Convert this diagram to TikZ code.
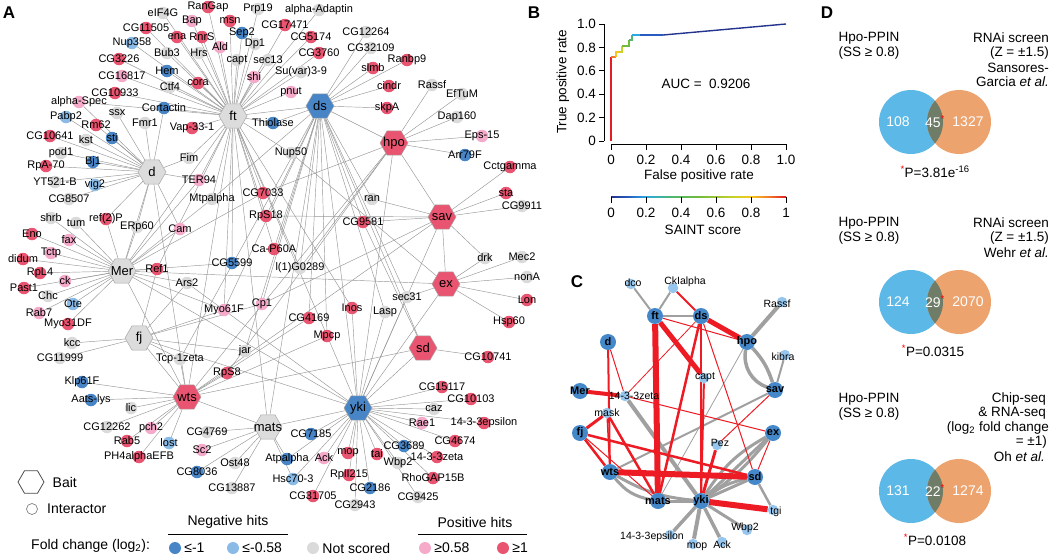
\documentclass[tikz,border=0pt]{standalone}
\usepackage{fontspec}
\setmainfont{Liberation Sans}
\usepackage{xcolor}
\usepackage{tikz}
\usetikzlibrary{shapes.geometric, backgrounds, positioning}
\definecolor{posA}{RGB}{233,84,112}
\definecolor{posB}{RGB}{245,170,202}
\definecolor{negA}{RGB}{72,133,199}
\definecolor{negB}{RGB}{138,186,230}
\definecolor{nsc}{RGB}{218,218,218}
\definecolor{baitgray}{RGB}{220,220,220}
\definecolor{edgegray}{RGB}{150,150,150}
\definecolor{netblue}{RGB}{68,136,202}
\definecolor{netlight}{RGB}{150,198,238}
\definecolor{netred}{RGB}{237,28,36}
\definecolor{netgray}{RGB}{160,160,160}
\definecolor{vennblue}{RGB}{92,184,230}
\definecolor{vennorange}{RGB}{236,163,110}
\definecolor{vennmix}{RGB}{110,124,104}
% SAINT colour scale
\definecolor{saintA}{RGB}{36,52,142}
\definecolor{saintB}{RGB}{40,92,192}
\definecolor{saintC}{RGB}{42,170,226}
\definecolor{saintD}{RGB}{80,182,112}
\definecolor{saintE}{RGB}{112,186,60}
\definecolor{saintF}{RGB}{200,210,40}
\definecolor{saintG}{RGB}{246,200,30}
\definecolor{saintH}{RGB}{242,122,40}
\definecolor{saintI}{RGB}{226,30,35}
\pgfdeclarehorizontalshading{saint}{4bp}{color(0bp)=(saintA); color(25bp)=(saintA);
  color(30bp)=(saintB); color(35bp)=(saintC); color(42.5bp)=(saintD); color(50bp)=(saintE);
  color(60bp)=(saintF); color(65bp)=(saintG); color(70bp)=(saintH); color(75bp)=(saintI);
  color(100bp)=(saintI)}

% interactors of panel A: name/x/y/colour/label
\def\Anodes{%
eif/163/13/nsc/eIF4G, rangap/208/7/posA/RanGap, bap/192/21/posB/Bap, msn/230/21/posA/msn,
prp/258/9/nsc/Prp19, aad/319/10/nsc/alpha-Adaptin, cg17471/285/25/posA/CG17471,
cg11505/146/28/posA/CG11505, ena/177/37/posA/ena, rnrs/202/37/posA/RnrS, ald/220/47/posB/Ald,
sep/242/33/negA/Sep2, cg5174/311/37/posA/CG5174, cg12264/366/32/nsc/CG12264,
nup358/132/43/negB/Nup358, dp1/255/44/nsc/Dp1, cg3760/319/53/posA/CG3760,
cg32109/371/48/nsc/CG32109, bub/167/53/nsc/Bub3, hrs/199/53/nsc/Hrs, capt/237/60/nsc/capt,
sec13/268/60/nsc/sec13, ranbp/407/60/posA/Ranbp9, cg3226/119/59/posA/CG3226,
slmb/373/68/posA/slmb, hem/167/71/negA/Hem, suvar/301/72/nsc/Su(var)3-9, shi/254/77/posB/shi,
cg16817/122/76/posB/CG16817, cora/198/83/posA/cora, ctf/170/87/nsc/Ctf4, cindr/389/86/posA/cindr,
rassf/432/85/nsc/Rassf, pnut/291/92/posB/pnut, cg10933/115/93/posA/CG10933,
eftum/462/94/nsc/EfTuM, aspec/79/102/posB/alpha-Spec, cort/164/108/negA/Cortactin,
skpa/387/108/posA/skpA, ssx/117/113/nsc/ssx, pabp/66/117/negB/Pabp2, dap/457/117/nsc/Dap160,
fmr/145/123/nsc/Fmr1, thiol/273/123/negA/Thiolase, rm62/96/125/posA/Rm62,
vap/192/128/posA/Vap-33-1, eps15/482/136/posB/Eps-15, cg10641/50/136/posA/CG10641,
kst/86/140/nsc/kst, sti/112/138/negA/sti, nup50/291/153/nsc/Nup50, arr/465/155/negA/Arr79F,
pod/61/153/nsc/pod1, fim/189/158/nsc/Fim, bj/93/162/negA/Bj1, rpa/46/166/posA/RpA-70,
cct/510/167/posA/Cctgamma, ter/199/180/posB/TER94, yt/55/182/nsc/YT521-B, vig/95/185/negB/vig2,
cg7033/263/193/posA/CG7033, sta/506/193/posA/sta, cg8507/69/199/nsc/CG8507,
mtp/212/199/nsc/Mtpalpha, ran/372/199/nsc/ran, cg9911/522/206/nsc/CG9911,
rps18/266/216/posA/RpS18, shrb/51/218/nsc/shrb, refp/106/219/posA/ref(2)P, tum/76/223/nsc/tum,
cg9581/363/222/posA/CG9581, erp/137/227/nsc/ERp60, cam/180/229/posB/Cam, eno/32/234/posA/Eno,
fax/69/240/posB/fax, cap60/274/249/posA/Ca-P60A, tctp/51/253/posB/Tctp, drk/485/258/nsc/drk,
mec/522/257/nsc/Mec2, didum/23/259/posA/didum, cg5599/232/263/negA/CG5599,
lg/300/268/nsc/l(1)G0289, ref1/157/269/posA/Ref1, rpl4/40/273/posA/RpL4, nona/527/277/nsc/nonA,
ck/65/281/posB/ck, ars/187/283/nsc/Ars2, past/24/288/posA/Past1, chc/48/296/nsc/Chc,
sec31/407/297/nsc/sec31, lon/527/300/posA/Lon, ote/73/304/negB/Ote, cp1/262/304/posB/Cp1,
inos/352/308/posA/Inos, myo61/224/310/posB/Myo61F, lasp/385/312/nsc/Lasp, rab7/39/313/posB/Rab7,
cg4169/309/318/posA/CG4169, hsp/509/322/posA/Hsp60, myo31/68/324/posA/Myo31DF,
mpcp/327/336/posA/Mpcp, kcc/72/343/nsc/kcc, jar/245/351/nsc/jar, cg10741/488/357/posA/CG10741,
cg11999/60/358/nsc/CG11999, tcp/180/359/nsc/Tcp-1zeta, rps8/227/373/posA/RpS8,
klp/82/382/negA/Klp61F, cg15117/442/387/posA/CG15117, aats/91/400/negA/Aats-lys,
cg10103/471/399/posA/CG10103, lic/131/408/nsc/lic, caz/434/409/nsc/caz, rae/422/423/posB/Rae1,
eps14/484/423/posA/14-3-3epsilon, cg12262/107/427/nsc/CG12262, pch/151/428/posB/pch2,
cg4769/207/432/nsc/CG4769, cg7185/311/434/negA/CG7185, rab5/127/441/posA/Rab5,
lost/169/443/negB/lost, cg4674/455/441/posA/CG4674, cg3689/404/446/negA/CG3689,
sc2/202/450/posB/Sc2, mop/348/453/posA/mop, tai/377/454/posA/tai, zeta/437/457/posA/14-3-3zeta,
ph4/139/457/posA/PH4alphaEFB, ack/324/458/posB/Ack, atp/287/459/negA/Atpalpha,
ost/235/463/nsc/Ost48, wbp/398/463/nsc/Wbp2, cg8036/197/472/negA/CG8036,
rpl215/349/475/posA/RplI215, rho/433/478/posA/RhoGAP15B, hsc/293/479/negB/Hsc70-3,
cg13887/232/488/nsc/CG13887, cg2186/370/488/negA/CG2186, cg31705/313/496/posA/CG31705,
cg9425/418/497/nsc/CG9425, cg2943/355/505/nsc/CG2943}

\begin{document}
\begin{tikzpicture}[x=1pt, y=-1pt,
    itr/.style={circle, inner sep=0pt, minimum size=12.5pt},
    bait/.style={regular polygon, regular polygon sides=6, inner sep=0pt,
      minimum size=28pt, draw=gray!70, line width=0.5pt},
    baitlbl/.style={inner sep=0pt, font=\fontsize{13}{13}\selectfont},
    lbl/.style={inner sep=0pt, font=\fontsize{11}{12}\selectfont},
    link/.style={edgegray, line width=0.45pt},
    legend/.style={inner sep=0pt, font=\fontsize{14}{16}\selectfont},
    keydot/.style={circle, inner sep=0pt, minimum size=12pt},
    panel/.style={inner sep=0pt, font=\fontsize{17}{17}\selectfont\bfseries},
    rocaxis/.style={line width=0.9pt},
    roc/.style={inner sep=0pt, font=\fontsize{13.5}{15}\selectfont},
    hub/.style={circle, inner sep=0pt, minimum size=16pt, fill=netblue},
    leaf/.style={circle, inner sep=0pt, minimum size=10.5pt, fill=netlight},
    net/.style={inner sep=0pt, font=\fontsize{10.5}{12}\selectfont},
    gr/.style={netgray, line width=#1},
    rd/.style={netred, line width=#1},
    venn/.style={inner sep=0pt, font=\fontsize{13.5}{15}\selectfont},
    vcount/.style={inner sep=0pt, text=white, font=\fontsize{14}{16}\selectfont}]
  \useasboundingbox (0,0) rectangle (1050,557);

  % ---------------- A: Hpo network ----------------
  \node[panel] (pA) at (9,13) {A};
  \foreach \nm/\px/\py/\col/\lab in \Anodes {
    \node[itr, fill=\col] (\nm) at (\px,\py) {};
  }
  % Baits
  \node[bait, fill=baitgray, label={[baitlbl]center:ft}] (ft) at (233,116) {};
  \node[bait, fill=negA, label={[baitlbl]center:ds}] (ds) at (320,106) {};
  \node[bait, fill=baitgray, label={[baitlbl]center:d}] (d) at (152,172) {};
  \node[bait, fill=posA, label={[baitlbl]center:hpo}] (hpo) at (394,143) {};
  \node[bait, fill=posA, label={[baitlbl]center:sav}] (sav) at (442,217) {};
  \node[bait, fill=baitgray, label={[baitlbl]center:Mer}] (Mer) at (122,271) {};
  \node[bait, fill=posA, label={[baitlbl]center:ex}] (ex) at (446,284) {};
  \node[bait, fill=baitgray, label={[baitlbl]center:fj}] (fj) at (139,338) {};
  \node[bait, fill=posA, label={[baitlbl]center:sd}] (sd) at (423,348) {};
  \node[bait, fill=posA, label={[baitlbl]center:wts}] (wts) at (187,397) {};
  \node[bait, fill=baitgray, label={[baitlbl]center:mats}] (mats) at (268,427) {};
  \node[bait, fill=negA, label={[baitlbl]center:yki}] (yki) at (358,408) {};
  \foreach \nm/\px/\py/\col/\lab in \Anodes {
    \node[lbl] (\nm-t) at (\px,\py) {\lab};
  }
  % Interactions
  \begin{scope}[on background layer]
    \foreach \b/\lst in {
      ft/{eif,rangap,bap,msn,prp,aad,cg17471,cg11505,ena,rnrs,ald,sep,cg5174,nup358,dp1,cg3760,bub,hrs,capt,sec13,cg3226,hem,suvar,shi,cg16817,cora,ctf,pnut,cg10933,aspec,cort,vap,thiol,nup50,fim,ter,cg7033,mtp,rps18,cap60,cg5599,ref1,inos,myo61,lg,ds,Mer,wts,mats,yki},
      ds/{cg12264,cg32109,ranbp,slmb,cindr,skpa,thiol,hpo,ran,cg9581,lg,cp1,cg4169,mpcp,lasp,sec31,jar,tcp,cap60,mtp,myo61,mats,yki,sd,rps18},
      d/{aspec,ssx,pabp,rm62,cg10641,kst,sti,pod,bj,rpa,yt,vig,cg8507,fmr,cort,fim,ter,cam,erp,refp,Mer,wts},
      hpo/{rassf,eftum,dap,eps15,arr,cg7033,rps8,lg,sav,wts,yki},
      sav/{cct,sta,cg9911,drk,ran,rps18,cg9581,cp1,ex,wts,yki},
      Mer/{shrb,tum,refp,erp,eno,fax,tctp,didum,rpl4,ck,past,chc,ote,rab7,myo31,cam,ref1,ars,cg5599,mtp,ter,myo61,cg7033,wts,yki,ex},
      ex/{drk,mec,nona,lon,hsp,nup50,sec31,yki},
      fj/{kcc,cg11999,ref1,myo61,jar,tcp,cp1,ars,wts,yki},
      sd/{cg10741,cg9581,yki,wts},
      wts/{klp,aats,lic,cg12262,pch,rab5,lost,ph4,rps8,tcp,cg4169,mpcp,mats},
      mats/{cg4769,sc2,ost,cg8036,cg13887,hsc,atp,yki},
      yki/{cg7185,atp,hsc,ack,mop,tai,rpl215,cg2186,cg31705,cg2943,cg3689,wbp,zeta,rho,cg9425,cg4674,rae,caz,eps14,cg10103,cg15117,ars,inos,lasp,sec31}} {
      \foreach \i in \lst {\draw[link] (\b) -- (\i);}
    }
  \end{scope}
  % Legend
  \node[bait, fill=white, draw=black!70, line width=0.8pt, minimum size=26pt] (keybait) at (31,482) {};
  \node[legend, right=8pt of keybait] (keybait-t) {Bait};
  \node[keydot, draw=gray, line width=0.7pt, fill=white, minimum size=11pt] (keyitr) at (32,509) {};
  \node[legend, anchor=west] (keyitr-t) at (47,509) {Interactor};
  \node[legend, anchor=west] (fold) at (31,546) {Fold change (log\textsubscript{2}):};
  \node[legend] (neg) at (228,522) {Negative hits};
  \draw[line width=1pt] (168,534) -- (288,534);
  \node[legend] (pos) at (475,522) {Positive hits};
  \draw[line width=1pt] (418,534) -- (527,534);
  \foreach \px/\col/\lab [count=\k] in {175/negA/≤-1, 233/negB/≤-0.58, 313/nsc/Not scored,
      425/posB/≥0.58, 503/posA/≥1} {
    \node[keydot, fill=\col] (dot\k) at (\px,548) {};
    \node[legend, right=3pt of dot\k] (dot\k-t) {\lab};
  }

  % ---------------- B: ROC ----------------
  \node[panel] (pB) at (534,13) {B};
  \draw[rocaxis] (604,24) -- (604,141);
  \draw[rocaxis] (611,144) -- (786,144);
  \foreach \v/\lab [count=\k] in {0/0, 0.2/0.2, 0.4/0.4, 0.6/0.6, 0.8/0.8, 1/1.0} {
    \draw[rocaxis] (599,{141-117*\v}) -- (604,{141-117*\v});
    \node[roc, anchor=east] (ytick\k) at (596,{141-117*\v}) {\lab};
    \draw[rocaxis] ({611+175*\v},144) -- ({611+175*\v},150);
    \node[roc] (xtick\k) at ({611+175*\v},160) {\lab};
  }
  \node[roc, rotate=90] (ylab) at (563,82) {True positive rate};
  \node[roc] (xlab) at (699,176) {False positive rate};
  \node[roc] (auc) at (706,84) {AUC =\ \ 0.9206};
  % curve coloured by SAINT score
  \begin{scope}[line width=1.4pt]
    \draw[saintI] (611,141) -- (611,57);
    \draw[saintH] (611,57) -- (616,57);
    \draw[saintG] (616,57) -- (616,52) -- (619,52);
    \draw[saintF] (619,52) -- (622,52) -- (622,46);
    \draw[saintE] (622,46) -- (629,46) -- (629,40);
    \draw[saintD] (629,40) -- (632,40) -- (632,35);
    \draw[saintC] (632,35) -- (640,35);
    \draw[saintB] (640,35) -- (663,35);
    \draw[saintA] (663,35) -- (786,24);
  \end{scope}
  % colour bar
  \shade[shading=saint] (611,195) rectangle (786,199);
  \foreach \v/\lab [count=\k] in {0/0, 0.2/0.2, 0.4/0.4, 0.6/0.6, 0.8/0.8, 1/1} {
    \draw[rocaxis] ({611+175*\v},197) -- ({611+175*\v},203);
    \node[roc] (ctick\k) at ({611+175*\v},213) {\lab};
  }
  \node[roc] (saintlab) at (703,230) {SAINT score};

  % ---------------- C: core network ----------------
  \node[panel] (pC) at (577,282) {C};
  \node[hub] (cft) at (655,316) {};
  \node[hub] (cds) at (701,316) {};
  \node[hub] (chpo) at (747,342) {};
  \node[hub] (cd) at (608,342) {};
  \node[hub] (cmer) at (580,391) {};
  \node[hub] (csav) at (775,390) {};
  \node[hub] (cfj) at (580,433) {};
  \node[hub] (cex) at (773,433) {};
  \node[hub] (cwts) at (610,472) {};
  \node[hub] (csd) at (755,477) {};
  \node[hub] (cmats) at (658,501) {};
  \node[hub] (cyki) at (701,501) {};
  \node[leaf] (cdco) at (631,284) {};
  \node[leaf] (cckia) at (673,288) {};
  \node[leaf] (ccapt) at (704,378) {};
  \node[leaf] (czeta) at (625,396) {};
  \node[leaf] (cmask) at (607,413) {};
  \node[leaf] (crassf) at (782,302) {};
  \node[leaf] (ckibra) at (785,355) {};
  \node[leaf] (cpez) at (717,445) {};
  \node[leaf] (ctgi) at (773,510) {};
  \node[leaf] (cwbp) at (747,530) {};
  \node[leaf] (ceps) at (670,535) {};
  \node[leaf] (cmop) at (693,544) {};
  \node[leaf] (cack) at (722,542) {};
  \foreach \nm/\px/\py/\lab in {cft/655/316/ft, cds/701/316/ds, chpo/747/342/hpo, cd/608/342/d,
      cmer/580/391/Mer, csav/775/390/sav, cfj/580/433/fj, cex/773/433/ex, cwts/610/472/wts,
      csd/755/477/sd, cmats/658/501/mats, cyki/701/501/yki} {
    \node[net, font=\fontsize{11}{12}\selectfont\bfseries] (\nm-t) at (\px,\py) {\lab};
  }
  \foreach \nm/\px/\py/\lab in {cdco/633/283/dco, cckia/685/282/CkIalpha, ccapt/705/377/capt,
      czeta/634/396/14-3-3zeta, cmask/607/413/mask, crassf/777/304/Rassf, ckibra/783/357/kibra,
      cpez/720/443/Pez, ctgi/776/512/tgi, cwbp/745/528/Wbp2, ceps/652/537/14-3-3epsilon,
      cmop/697/547/mop, cack/722/545/Ack} {
    \node[net] (\nm-t) at (\px,\py) {\lab};
  }
  \begin{scope}[on background layer]
    % gray edges
    \draw[gr=2pt] (cdco) -- (cft);
    \draw[gr=2pt] (cckia) -- (cft);
    \draw[gr=2.5pt] (cft) -- (cds);
    \draw[gr=4pt] (chpo) -- (crassf);
    \draw[gr=3.5pt] (chpo) to[bend right=40] (csav);
    \draw[gr=3.5pt] (chpo) to[bend left=12] (csav);
    \draw[gr=2pt] (csav) -- (ckibra);
    \draw[gr=2pt] (csav) -- (cwts);
    \draw[gr=0.8pt] (chpo) -- (cmats);
    \draw[gr=4pt] (czeta) -- (cyki);
    \draw[gr=3pt] (cwts) to[bend right=20] (cmats);
    \draw[gr=3pt] (cwts) to[bend right=12] (cyki);
    \draw[gr=3pt] (cmats) -- (cyki);
    \draw[gr=3pt] (cyki) to[bend left=14] (cex);
    \draw[gr=3pt] (cyki) -- (cex);
    \draw[gr=3pt] (cyki) to[bend right=8] (cex);
    \draw[gr=3pt] (cyki) to[bend left=12] (csd);
    \draw[gr=3pt] (cyki) -- (csd);
    \draw[gr=3.5pt] (cyki) -- (ceps);
    \draw[gr=4pt] (cyki) -- (cmop);
    \draw[gr=3.5pt] (cyki) -- (cack);
    \draw[gr=3pt] (cyki) -- (cwbp);
    \draw[gr=2.5pt] (csd) -- (ctgi);
    % red edges
    \draw[rd=2pt] (cckia) -- (cds);
    \draw[rd=1pt] (cft) -- (chpo);
    \draw[rd=5pt] (cft) -- (ccapt);
    \draw[rd=6pt] (cft) -- (cmats);
    \draw[rd=5pt] (cds) -- (chpo);
    \draw[rd=2.5pt] (cds) -- (cmats);
    \draw[rd=1.5pt] (cds) -- (cyki);
    \draw[rd=1pt] (cds) -- (csd);
    \draw[rd=0.8pt] (cds) -- (czeta);
    \draw[rd=2pt] (ccapt) -- (cyki);
    \draw[rd=2pt] (cd) -- (cwts);
    \draw[rd=1pt] (cd) -- (czeta);
    \draw[rd=4pt] (cmer) -- (czeta);
    \draw[rd=1pt] (czeta) -- (cex);
    \draw[rd=3pt] (cmask) -- (cfj);
    \draw[rd=1.5pt] (cmask) -- (cwts);
    \draw[rd=2.5pt] (cmask) -- (cmats);
    \draw[rd=2.5pt] (cfj) -- (cwts);
    \draw[rd=1pt] (cfj) -- (cmats);
    \draw[rd=2.5pt] (cfj) -- (csd);
    \draw[rd=6pt] (cwts) -- (csd);
    \draw[rd=3pt] (cyki) -- (cpez);
    \draw[rd=6pt] (cyki) -- (ctgi);
    \draw[rd=1pt] (csav) -- (cpez);
    \draw[rd=1pt] (cex) -- (csd);
  \end{scope}

  % ---------------- D: overlaps ----------------
  \node[panel] (pD) at (827,13) {D};
  \foreach \vy/\na/\nb/\nc [count=\k] in {122/108/45/1327, 302/124/29/2070, 491/131/22/1274} {
    \fill[vennblue] (911,\vy) circle (32pt);
    \fill[vennorange] (959,\vy) circle (32pt);
    \begin{scope}
      \clip (911,\vy) circle (32pt);
      \fill[vennmix] (959,\vy) circle (32pt);
    \end{scope}
    \node[vcount] (vl\k) at (898,\vy) {\na};
    \node[vcount] (vm\k) at (935,\vy) {\nb\textsuperscript{\textcolor{red}{*}}};
    \node[vcount] (vr\k) at (968,\vy) {\nc};
  }
  \foreach \vy [count=\k] in {38,223,399} {
    \node[venn] (ppin\k) at (869,\vy) {Hpo-PPIN};
    \node[venn] (ss\k) at (869,\vy+15) {(SS ≥ 0.8)};
  }
  \node[venn, anchor=east] (scrA) at (1049,38) {RNAi screen};
  \node[venn, anchor=east] (zA) at (1049,53) {(Z = ±1.5)};
  \node[venn, anchor=east] (srcA) at (1049,68) {Sansores-};
  \node[venn, anchor=east] (srcA2) at (1049,82) {Garcia \textit{et al.}};
  \node[venn] (pvalA) at (935,172) {\textcolor{red}{\textsuperscript{*}}P=3.81e\textsuperscript{-16}};
  \node[venn, anchor=east] (scrB) at (1049,223) {RNAi screen};
  \node[venn, anchor=east] (zB) at (1049,238) {(Z = ±1.5)};
  \node[venn, anchor=east] (srcB) at (1049,253) {Wehr \textit{et al.}};
  \node[venn] (pvalB) at (933,351) {\textcolor{red}{\textsuperscript{*}}P=0.0315};
  \node[venn, anchor=east] (scrC) at (1046,399) {Chip-seq};
  \node[venn, anchor=east] (scrC2) at (1046,413) {\& RNA-seq};
  \node[venn, anchor=east] (scrC3) at (1049,428) {(log\textsubscript{2} fold change};
  \node[venn, anchor=east] (zC) at (1047,442) {= ±1)};
  \node[venn, anchor=east] (srcC) at (1045,457) {Oh \textit{et al.}};
  \node[venn] (pvalC) at (935,540) {\textcolor{red}{\textsuperscript{*}}P=0.0108};
\end{tikzpicture}
\end{document}
